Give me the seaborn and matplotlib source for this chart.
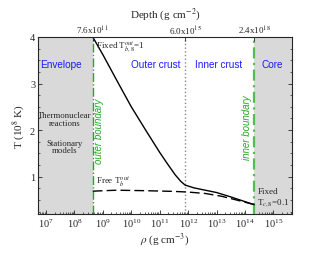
import numpy as np
import pandas as pd
import matplotlib
matplotlib.use("Agg")
import matplotlib.pyplot as plt
from matplotlib.ticker import MultipleLocator, LogLocator, NullFormatter
import seaborn as sns

# density (g cm^-3) and temperature (1e8 K)
rho_fixed = [4.4e8, 1e9, 3.2e9, 1e10, 3.2e10, 1e11, 2e11, 3.5e11, 5.5e11,
             7.8e11, 1.6e12, 4e12, 1e13, 3e13, 2.1e14]
T_fixed = [4.0, 3.62, 3.05, 2.50, 2.00, 1.52, 1.25, 1.04, 0.90,
           0.82, 0.76, 0.71, 0.66, 0.57, 0.40]
rho_free = [4.4e8, 3e9, 3e10, 3e11, 1e12, 4e12, 1.5e13, 5e13, 2.1e14]
T_free = [0.69, 0.71, 0.70, 0.685, 0.67, 0.64, 0.58, 0.50, 0.40]

rho_outer = 4.4e8   # outer boundary
rho_drip = 7.8e11   # outer / inner crust
rho_inner = 2.1e14  # inner boundary
depth_labels = [r"7.6x10$^{11}$", r"6.0x10$^{15}$", r"2.4x10$^{18}$"]
regions = ["Envelope", "Outer crust", "Inner crust", "Core"]
region_x = [3.3e7, 7e10, 1.2e13, 9e14]
decades = [1e7, 1e8, 1e9, 1e10, 1e11, 1e12, 1e13, 1e14, 1e15]

df_fixed = pd.DataFrame({"rho": rho_fixed, "T": T_fixed})
df_free = pd.DataFrame({"rho": rho_free, "T": T_free})

sns.set_style("ticks")
plt.rcParams["font.family"] = ["Liberation Serif", "DejaVu Serif"]
plt.rcParams["mathtext.fontset"] = "stix"
plt.rcParams["xtick.direction"] = "in"
plt.rcParams["ytick.direction"] = "in"

fig = plt.figure(figsize=(3.3, 2.55), dpi=100)
ax = fig.add_axes([0.115, 0.157, 0.77, 0.694])
ax.set_xscale("log")
xmin, xmax = 5.2e6, 4.5e15
ax.set_xlim(xmin, xmax)
ax.set_ylim(0.2, 4.0)

# shaded envelope and core
ax.axvspan(xmin, rho_outer, color="#d9d9d9", zorder=0, lw=0)
ax.axvspan(rho_inner, xmax, color="#d9d9d9", zorder=0, lw=0)
ax.axvline(rho_outer, color="#22aa22", ls="-.", lw=1.0)
ax.axvline(rho_inner, color="#55bb55", ls=(0, (5, 2, 1, 2)), lw=1.6)
ax.axvline(rho_drip, color="#888888", ls=":", lw=1.0)

sns.lineplot(data=df_fixed, x="rho", y="T", ax=ax, color="black", lw=1.0)
sns.lineplot(data=df_free, x="rho", y="T", ax=ax, color="black", lw=1.0,
             linestyle=(0, (7, 3)))

for name, xpos in zip(regions, region_x):
    ax.text(xpos, 3.42, name, color="#1a1aff", fontsize=7.2, ha="center",
            va="center", family="Liberation Sans")

ax.text(4.6e7, 2.24, "Thermonuclear\nreactions", fontsize=6.3, ha="center",
        va="center", linespacing=0.95)
ax.text(4.6e7, 1.65, "Stationary\nmodels", fontsize=6.3, ha="center",
        va="center", linespacing=0.95)
ax.text(7.5e8, 2.0, "outer boundary", color="#22aa22", fontsize=7,
        rotation=90, ha="center", va="center", style="italic",
        family="Liberation Sans")
ax.text(1.2e14, 2.07, "inner boundary", color="#22aa22", fontsize=7,
        rotation=90, ha="center", va="center", style="italic",
        family="Liberation Sans")
ax.text(5.8e8, 3.82, r"Fixed T$^{out}_{b,8}$=1", fontsize=6.5, va="center")
ax.text(5.8e8, 0.9, r"Free T$^{out}_{b}$", fontsize=6.5, va="center")
ax.text(2.8e14, 0.70, "Fixed", fontsize=6.5, va="center")
ax.text(2.6e14, 0.45, r"T$_{c,8}$=0.1", fontsize=6.5, va="center")

ax.set_xlabel(r"$\rho$ (g cm$^{-3}$)", fontsize=8, labelpad=1)
ax.set_ylabel(r"T (10$^{8}$ K)", fontsize=8, labelpad=2)
ax.set_yticks([1, 2, 3, 4])
ax.yaxis.set_minor_locator(MultipleLocator(0.25))
ax.set_xticks(decades)
ax.xaxis.set_minor_locator(LogLocator(base=10, subs=np.arange(2, 10), numticks=20))
ax.xaxis.set_minor_formatter(NullFormatter())
ax.tick_params(axis="both", which="major", labelsize=7.5, length=3, width=0.6,
               pad=2)
ax.tick_params(axis="both", which="minor", length=1.5, width=0.5)
ax.tick_params(axis="y", which="both", right=True)
ax.tick_params(axis="x", which="both", top=False)
for sp in ax.spines.values():
    sp.set_linewidth(0.7)
    sp.set_color("#444444")

top = ax.twiny()
top.set_xscale("log")
top.set_xlim(xmin, xmax)
top.set_xticks([rho_outer, rho_drip, rho_inner])
top.set_xticklabels(depth_labels)
top.xaxis.set_minor_locator(plt.NullLocator())
top.tick_params(axis="x", labelsize=6.5, length=3, width=0.6, pad=1)
top.set_xlabel(r"Depth (g cm$^{-2}$)", fontsize=8, labelpad=5)

fig.savefig("out.png", dpi=100)
